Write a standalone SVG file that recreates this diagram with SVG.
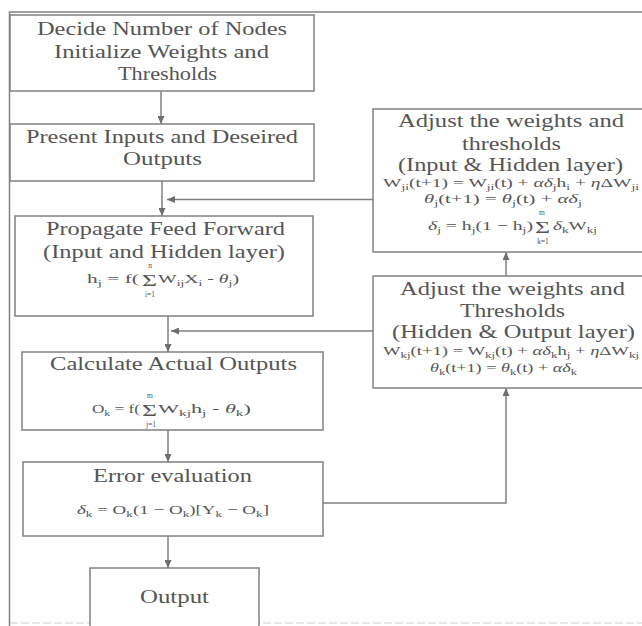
<svg xmlns="http://www.w3.org/2000/svg" width="642" height="626" viewBox="0 0 642 626">
<defs>
<style>
.box{fill:#fff;stroke:#808080;stroke-width:1.5}
.t{font-family:"Liberation Serif","Times New Roman",serif;font-size:19px;fill:#555}
.f{font-family:"Liberation Serif","Times New Roman",serif;font-size:13px;fill:#555}
.s{font-size:9px}
.g{font-style:italic}
.lim{font-family:"Liberation Serif","Times New Roman",serif;font-size:7.5px;fill:#555;text-anchor:middle}
.sig{font-family:"Liberation Serif","Times New Roman",serif;font-size:16px;fill:#555}
.c{fill:none;stroke:#808080;stroke-width:1.5}
</style>
<marker id="ah" markerUnits="userSpaceOnUse" markerWidth="8" markerHeight="7" refX="8" refY="3.5" orient="auto"><path d="M0,0 L8,3.5 L0,7 z" fill="#6e6e6e"/></marker>
</defs>
<rect width="642" height="626" fill="#fff"/>
<g id="frame">
<path class="c" d="M642,12 H9.5 V626"/>
<path d="M10,623 H642" fill="none" stroke="#cfcfcf" stroke-width="1.2" stroke-dasharray="8 3"/>
</g>
<g id="connectors">
<path class="c" d="M161,91 V124" marker-end="url(#ah)"/>
<path class="c" d="M162,181 V216" marker-end="url(#ah)"/>
<path class="c" d="M373,199.5 H167" marker-end="url(#ah)"/>
<path class="c" d="M168,316 V352" marker-end="url(#ah)"/>
<path class="c" d="M373,331 H171" marker-end="url(#ah)"/>
<path class="c" d="M168,430 V462" marker-end="url(#ah)"/>
<path class="c" d="M168,536 V568" marker-end="url(#ah)"/>
<path class="c" d="M323,503 H506 V388" marker-end="url(#ah)"/>
<path class="c" d="M506,276 V252" marker-end="url(#ah)"/>
</g>
<g id="n1">
<rect class="box" x="10" y="15" width="304" height="76"/>
<text class="t" x="37" y="35" textLength="250" lengthAdjust="spacingAndGlyphs">Decide Number of Nodes</text>
<text class="t" x="54" y="58" textLength="215" lengthAdjust="spacingAndGlyphs">Initialize Weights and</text>
<text class="t" x="118" y="80" textLength="99" lengthAdjust="spacingAndGlyphs">Thresholds</text>
</g>
<g id="n2">
<rect class="box" x="10" y="124" width="304" height="57"/>
<text class="t" x="26" y="143" textLength="272" lengthAdjust="spacingAndGlyphs">Present Inputs and Deseired</text>
<text class="t" x="123" y="165" textLength="79" lengthAdjust="spacingAndGlyphs">Outputs</text>
</g>
<g id="n3">
<rect class="box" x="15" y="216" width="298" height="100"/>
<text class="t" x="46" y="235" textLength="239" lengthAdjust="spacingAndGlyphs">Propagate Feed Forward</text>
<text class="t" x="43" y="258" textLength="242" lengthAdjust="spacingAndGlyphs">(Input and Hidden layer)</text>
<text class="f" x="87" y="283" textLength="52" lengthAdjust="spacingAndGlyphs">h<tspan class="s" dy="3">j</tspan><tspan dy="-3"> = f(</tspan></text>
<text class="sig" x="142" y="286" textLength="15" lengthAdjust="spacingAndGlyphs">Σ</text>
<text class="lim" x="150" y="268">n</text>
<text class="lim" x="150" y="297">i=1</text>
<text class="f" x="158" y="283" textLength="81" lengthAdjust="spacingAndGlyphs">W<tspan class="s" dy="3">ij</tspan><tspan dy="-3">X</tspan><tspan class="s" dy="3">i</tspan><tspan dy="-3"> - </tspan><tspan class="g">θ</tspan><tspan class="s" dy="3">j</tspan><tspan dy="-3">)</tspan></text>
</g>
<g id="n4">
<rect class="box" x="22" y="352" width="301" height="78"/>
<text class="t" x="50" y="370" textLength="247" lengthAdjust="spacingAndGlyphs">Calculate Actual Outputs</text>
<text class="f" x="92" y="413" textLength="48" lengthAdjust="spacingAndGlyphs">O<tspan class="s" dy="3">k</tspan><tspan dy="-3"> = f(</tspan></text>
<text class="sig" x="142" y="416" textLength="15" lengthAdjust="spacingAndGlyphs">Σ</text>
<text class="lim" x="150" y="398">m</text>
<text class="lim" x="151" y="427">j=1</text>
<text class="f" x="158" y="413" textLength="93" lengthAdjust="spacingAndGlyphs">W<tspan class="s" dy="3">kj</tspan><tspan dy="-3">h</tspan><tspan class="s" dy="3">j</tspan><tspan dy="-3"> - </tspan><tspan class="g">θ</tspan><tspan class="s" dy="3">k</tspan><tspan dy="-3">)</tspan></text>
</g>
<g id="n5">
<rect class="box" x="23" y="462" width="300" height="74"/>
<text class="t" x="93" y="482" textLength="159" lengthAdjust="spacingAndGlyphs">Error evaluation</text>
<text class="f" x="77" y="514" textLength="192" lengthAdjust="spacingAndGlyphs"><tspan class="g">δ</tspan><tspan class="s" dy="3">k</tspan><tspan dy="-3"> = O</tspan><tspan class="s" dy="3">k</tspan><tspan dy="-3">(1 − O</tspan><tspan class="s" dy="3">k</tspan><tspan dy="-3">)[Y</tspan><tspan class="s" dy="3">k</tspan><tspan dy="-3"> − O</tspan><tspan class="s" dy="3">k</tspan><tspan dy="-3">]</tspan></text>
</g>
<g id="n6">
<rect class="box" x="90" y="568" width="169" height="70"/>
<text class="t" x="140" y="603" textLength="69" lengthAdjust="spacingAndGlyphs">Output</text>
</g>
<g id="nA">
<rect class="box" x="373" y="109" width="280" height="143"/>
<text class="t" x="398" y="127" textLength="226" lengthAdjust="spacingAndGlyphs">Adjust the weights and</text>
<text class="t" x="462" y="150" textLength="99" lengthAdjust="spacingAndGlyphs">thresholds</text>
<text class="t" x="398" y="171" textLength="225" lengthAdjust="spacingAndGlyphs">(Input &amp; Hidden layer)</text>
<text class="f" x="383" y="187" textLength="256" lengthAdjust="spacingAndGlyphs">W<tspan class="s" dy="3">ji</tspan><tspan dy="-3">(t+1) = W</tspan><tspan class="s" dy="3">ji</tspan><tspan dy="-3">(t) + </tspan><tspan class="g">αδ</tspan><tspan class="s" dy="3">j</tspan><tspan dy="-3">h</tspan><tspan class="s" dy="3">i</tspan><tspan dy="-3"> + </tspan><tspan class="g">η</tspan><tspan>ΔW</tspan><tspan class="s" dy="3">ji</tspan></text>
<text class="f" x="424" y="203" textLength="158" lengthAdjust="spacingAndGlyphs"><tspan class="g">θ</tspan><tspan class="s" dy="3">j</tspan><tspan dy="-3">(t+1) = </tspan><tspan class="g">θ</tspan><tspan class="s" dy="3">j</tspan><tspan dy="-3">(t) + </tspan><tspan class="g">αδ</tspan><tspan class="s" dy="3">j</tspan></text>
<text class="f" x="428" y="230" textLength="105" lengthAdjust="spacingAndGlyphs"><tspan class="g">δ</tspan><tspan class="s" dy="3">j</tspan><tspan dy="-3"> = h</tspan><tspan class="s" dy="3">j</tspan><tspan dy="-3">(1 − h</tspan><tspan class="s" dy="3">j</tspan><tspan dy="-3">)</tspan></text>
<text class="sig" x="535" y="233" textLength="15" lengthAdjust="spacingAndGlyphs">Σ</text>
<text class="lim" x="542" y="215">m</text>
<text class="lim" x="543" y="244">k=1</text>
<text class="f" x="553" y="230" textLength="44" lengthAdjust="spacingAndGlyphs"><tspan class="g">δ</tspan><tspan class="s" dy="3">k</tspan><tspan dy="-3">W</tspan><tspan class="s" dy="3">kj</tspan></text>
</g>
<g id="nB">
<rect class="box" x="373" y="276" width="280" height="112"/>
<text class="t" x="400" y="295" textLength="225" lengthAdjust="spacingAndGlyphs">Adjust the weights and</text>
<text class="t" x="460" y="317" textLength="105" lengthAdjust="spacingAndGlyphs">Thresholds</text>
<text class="t" x="392" y="338" textLength="243" lengthAdjust="spacingAndGlyphs">(Hidden &amp; Output layer)</text>
<text class="f" x="383" y="355" textLength="256" lengthAdjust="spacingAndGlyphs">W<tspan class="s" dy="2.5">kj</tspan><tspan dy="-2.5">(t+1) = W</tspan><tspan class="s" dy="2.5">kj</tspan><tspan dy="-2.5">(t) + </tspan><tspan class="g">αδ</tspan><tspan class="s" dy="2.5">k</tspan><tspan dy="-2.5">h</tspan><tspan class="s" dy="2.5">j</tspan><tspan dy="-2.5"> + </tspan><tspan class="g">η</tspan><tspan>ΔW</tspan><tspan class="s" dy="2.5">kj</tspan></text>
<text class="f" x="430" y="372" textLength="147" lengthAdjust="spacingAndGlyphs"><tspan class="g">θ</tspan><tspan class="s" dy="3">k</tspan><tspan dy="-3">(t+1) = </tspan><tspan class="g">θ</tspan><tspan class="s" dy="3">k</tspan><tspan dy="-3">(t) + </tspan><tspan class="g">αδ</tspan><tspan class="s" dy="3">k</tspan></text>
</g>
</svg>
